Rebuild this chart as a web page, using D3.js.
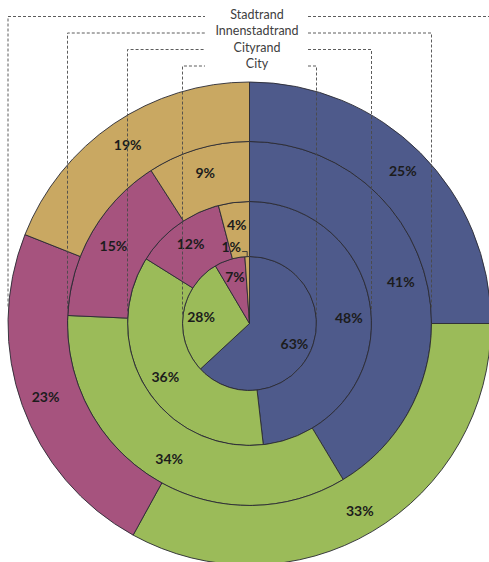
<!DOCTYPE html>
<html>
<head>
<meta charset="utf-8">
<script src="https://cdn.jsdelivr.net/npm/d3@7"></script>
<style>
  body { margin: 0; background: #fff; }
  svg { display: block; }
</style>
</head>
<body>
<svg id="chart" width="489" height="562"></svg>
<script>
// Ring names, from the centre outwards
const rings = ["City", "Cityrand", "Innenstadtrand", "Stadtrand"];
// Share of each category (percent), clockwise from 12 o'clock
const categories = ["Kategorie 1", "Kategorie 2", "Kategorie 3", "Kategorie 4"];
const cityValues = [63.1, 28.4, 7.4, 1.1];
const cityrandValues = [48.2, 35.7, 12.0, 4.1];
const innenstadtrandValues = [41.4, 34.3, 15.2, 9.1];
const stadtrandValues = [25, 33, 23, 19];
const palette = ["#4e5a8b", "#9bbb59", "#a6537e", "#c9a862"];

const ringValues = [cityValues, cityrandValues, innenstadtrandValues, stadtrandValues];

const svg = d3.select("#chart");
const cx = 249.5, cy = 323.5;

// ring boundaries (inner edge, outer edge)
const radius = d3.scaleOrdinal().domain(rings).range([[0, 67], [67, 122], [122, 182], [182, 241.5]]);
const color = d3.scaleOrdinal().domain(categories).range(palette);
const pie = d3.pie().sort(null).value(d => d.v);
const fmt = d3.format(".0f");

const g = svg.append("g").attr("transform", `translate(${cx},${cy})`);
const sliceLayer = g.append("g");
const labelLayer = g.append("g");

rings.forEach((ring, i) => {
  const [r0, r1] = radius(ring);
  const data = pie(ringValues[i].map((v, k) => ({ v, cat: categories[k] })));
  const arc = d3.arc().innerRadius(r0).outerRadius(r1);
  const rl = i === 0 ? 49 : (r0 + r1) / 2 + 5;
  const labelArc = d3.arc().innerRadius(rl).outerRadius(rl);

  sliceLayer.append("g")
    .selectAll("path")
    .data(data)
    .join("path")
    .attr("d", arc)
    .attr("fill", d => color(d.data.cat))
    .attr("stroke", "#2a2a33")
    .attr("stroke-width", 0.9);

  data.forEach(d => {
    let [x, y] = labelArc.centroid(d);
    const small = d.endAngle - d.startAngle < 0.15;
    if (small) {
      // tiny slice: label sits up-left with a leader to the slice edge
      const mid = (d.startAngle + d.endAngle) / 2;
      const px = r1 * Math.sin(mid), py = -r1 * Math.cos(mid);
      x = px - 16; y = py - 10;
      labelLayer.append("path")
        .attr("d", `M${x + 11},${py - 5}H${px}V${py}`)
        .attr("fill", "none")
        .attr("stroke", "#333")
        .attr("stroke-width", 0.9);
    }
    labelLayer.append("text")
      .attr("x", x).attr("y", y)
      .attr("text-anchor", "middle")
      .attr("dominant-baseline", "central")
      .attr("font-family", "Lato, 'Open Sans', sans-serif")
      .attr("font-weight", "bold")
      .attr("font-size", 14)
      .attr("fill", "#1c1c1c")
      .text(fmt(d.data.v) + "%");
  });
});

// ring names with dashed leaders down to each ring's side
const nameX = 257;
const nameY = d3.scaleOrdinal().domain(rings).range([63.5, 47, 30.5, 14]);
const gapL = 205, gapR = 308;
rings.forEach(ring => {
  const r = radius(ring)[1];
  const ly = nameY(ring);
  const lineY = ly + 2.5;
  const yEnd = cy - Math.sqrt(r * r - (r - 0.6) * (r - 0.6));
  svg.append("path")
    .attr("d", `M${cx - r},${yEnd}V${lineY}H${gapL}M${gapR},${lineY}H${cx + r}V${yEnd}`)
    .attr("fill", "none")
    .attr("stroke", "#4a4a4a")
    .attr("stroke-width", 0.9)
    .attr("stroke-dasharray", "3,2");
  svg.append("text")
    .attr("x", nameX).attr("y", ly)
    .attr("text-anchor", "middle")
    .attr("dominant-baseline", "central")
    .attr("font-family", "Lato, 'Open Sans', sans-serif")
    .attr("font-size", 12.5)
    .attr("fill", "#404040")
    .text(ring);
});
</script>
</body>
</html>
